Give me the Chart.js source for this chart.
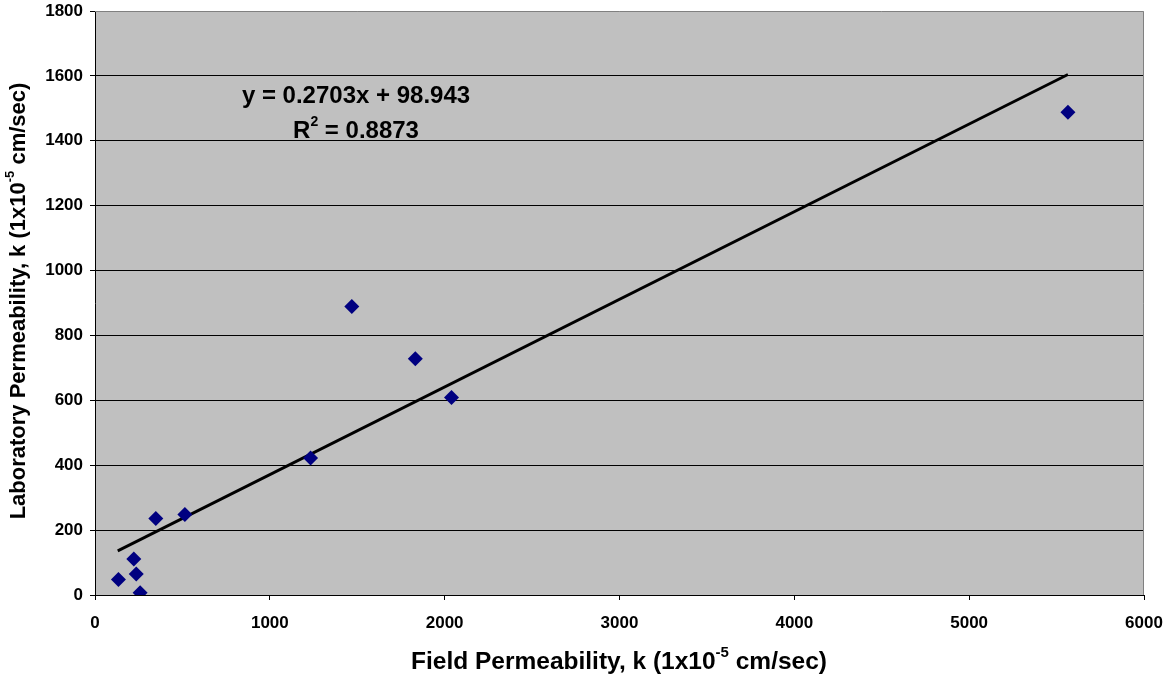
<!DOCTYPE html>
<html>
<head>
<meta charset="utf-8">
<script src="https://cdn.jsdelivr.net/npm/chart.js@4"></script>
<style>
html,body{margin:0;padding:0;background:#fff;}
#wrap{width:1172px;height:679px;}
</style>
</head>
<body>
<div id="wrap"><canvas id="c" width="1172" height="679"></canvas></div>
<script>
const fieldK = [134, 222, 236, 258, 348, 514, 1233, 1469, 1832, 2039, 5565];
const labK   = [48, 111, 65, 7, 236, 248, 422, 889, 728, 609, 1488];
const trendX = [130, 5565];
const trendY = [136, 1604];
const xTicks = [0, 1000, 2000, 3000, 4000, 5000, 6000];
const yTicks = [0, 200, 400, 600, 800, 1000, 1200, 1400, 1600, 1800];
const eqText = 'y = 0.2703x + 98.943';
const r2Text = ['R', '2', ' = 0.8873'];
const xTitle = ['Field Permeability, k (1x10', '-5', ' cm/sec)'];
const yTitle = ['Laboratory Permeability, k (1x10', '-5', ' cm/sec)'];

const FONT = '"Liberation Sans", Arial, sans-serif';

function drawSup(ctx, parts, size, cx, cy) {
  const big = 'bold ' + size + 'px ' + FONT;
  const small = 'bold ' + Math.round(size * 0.6) + 'px ' + FONT;
  ctx.font = big; const w0 = ctx.measureText(parts[0]).width;
  ctx.font = small; const w1 = ctx.measureText(parts[1]).width;
  ctx.font = big; const w2 = ctx.measureText(parts[2]).width;
  const total = w0 + w1 + w2;
  let x = cx - total / 2;
  ctx.textBaseline = 'middle';
  ctx.textAlign = 'left';
  ctx.font = big; ctx.fillText(parts[0], x, cy); x += w0;
  ctx.font = small; ctx.fillText(parts[1], x, cy - size * 0.38); x += w1;
  ctx.font = big; ctx.fillText(parts[2], x, cy);
}

const decor = {
  id: 'decor',
  beforeDraw(chart) {
    const {ctx, chartArea: a} = chart;
    ctx.save();
    ctx.fillStyle = '#C0C0C0';
    ctx.fillRect(a.left, a.top, a.right - a.left, a.bottom - a.top);
    ctx.restore();
  },
  beforeDatasetsDraw(chart) {
    const {ctx, chartArea: a} = chart;
    ctx.save();
    ctx.strokeStyle = '#808080';
    ctx.lineWidth = 1;
    ctx.beginPath();
    ctx.moveTo(a.left, a.top + 0.5);
    ctx.lineTo(a.right - 0.5, a.top + 0.5);
    ctx.lineTo(a.right - 0.5, a.bottom);
    ctx.stroke();
    ctx.restore();
  },
  afterDraw(chart) {
    const {ctx} = chart;
    ctx.save();
    ctx.fillStyle = '#000';
    drawSup(ctx, xTitle, 24.5, 619, 662);
    ctx.translate(19, 301);
    ctx.rotate(-Math.PI / 2);
    drawSup(ctx, yTitle, 22, 0, 0);
    ctx.restore();
    ctx.save();
    ctx.fillStyle = '#000';
    ctx.font = 'bold 24px ' + FONT;
    ctx.textAlign = 'center';
    ctx.textBaseline = 'middle';
    ctx.fillText(eqText, 356, 96);
    drawSup(ctx, r2Text, 24, 356, 131);
    ctx.restore();
  }
};

new Chart(document.getElementById('c'), {
  type: 'scatter',
  data: {
    datasets: [
      {
        label: 'Data',
        data: fieldK.map((x, i) => ({x: x, y: labK[i]})),
        pointStyle: 'rectRot',
        pointRadius: 7.5,
        backgroundColor: '#000080',
        borderColor: '#000080',
        borderWidth: 0,
        order: 1
      },
      {
        label: 'Trend',
        type: 'line',
        data: trendX.map((x, i) => ({x: x, y: trendY[i]})),
        borderColor: '#000',
        borderWidth: 2.8,
        pointRadius: 0,
        fill: false,
        order: 2
      }
    ]
  },
  options: {
    responsive: false,
    animation: false,
    devicePixelRatio: 1,
    layout: {padding: {left: 0, top: 11, right: 28, bottom: 0}},
    plugins: {legend: {display: false}, tooltip: {enabled: false}, title: {display: false}},
    scales: {
      x: {
        type: 'linear', min: 0, max: 6000,
        afterBuildTicks: s => { s.ticks = xTicks.map(v => ({value: v})); },
        afterFit: s => { s.height = 84; s.paddingLeft = 0; s.paddingRight = 0; },
        grid: {display: true, drawOnChartArea: false, drawTicks: true, tickLength: 5, tickColor: '#000', color: '#000'},
        border: {color: '#000', width: 1},
        ticks: {color: '#000', font: {family: FONT, size: 17, weight: 'bold'}, padding: 13, maxRotation: 0,
                callback: v => String(v)},
      },
      y: {
        type: 'linear', min: 0, max: 1800,
        afterBuildTicks: s => { s.ticks = yTicks.map(v => ({value: v})); },
        afterFit: s => { s.width = 95; s.paddingTop = 0; s.paddingBottom = 0; },
        grid: {
          color: c => (c.tick && c.tick.value === 1800) ? 'rgba(0,0,0,0)' : '#000',
          lineWidth: 1, tickLength: 5, tickColor: '#000'
        },
        border: {color: '#000', width: 1},
        ticks: {color: '#000', font: {family: FONT, size: 17, weight: 'bold'}, padding: 7,
                callback: v => String(v)},
      }
    }
  },
  plugins: [decor]
});
</script>
</body>
</html>
